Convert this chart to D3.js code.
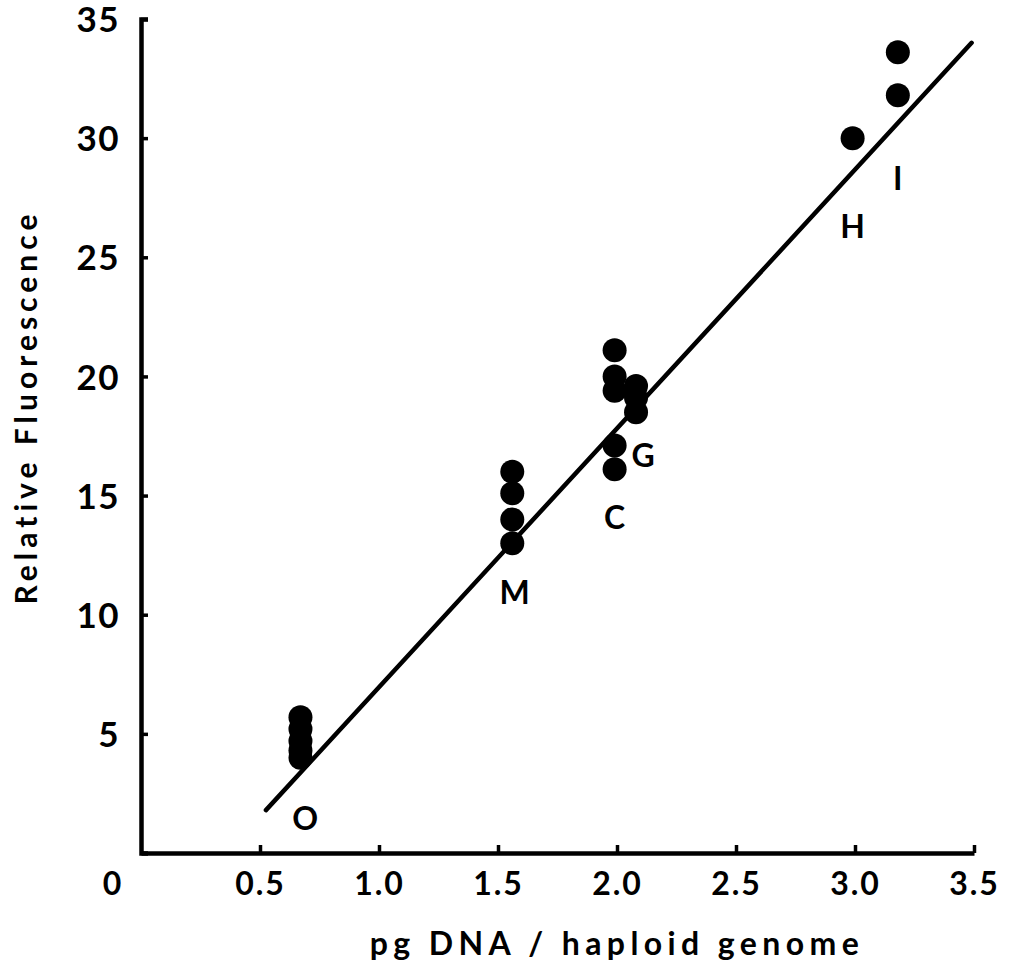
<!DOCTYPE html>
<meta charset="utf-8">
<style>
  body { margin: 0; background: #fff; }
  svg { display: block; }
  .axis path, .axis line { stroke: #000; }
  .axis path { stroke-width: 4.5px; }
  .axis line { stroke-width: 3.5px; }
  .axis text { font-family: Lato, sans-serif; font-weight: 700; fill: #000; }
  .fit { fill: none; stroke: #000; stroke-width: 4.5px; stroke-linecap: round; }
  .label { font-family: Lato, sans-serif; font-weight: 700; font-size: 32px; }
  .title { font-family: Lato, sans-serif; font-weight: 700; }
</style>
<body>
<script src="https://d3js.org/d3.v7.min.js"></script>
<script>

// measured points, one array per genome group
var groupO = [{x: 0.67, y: 5.7}, {x: 0.67, y: 5.2}, {x: 0.67, y: 4.7}, {x: 0.67, y: 4.3}, {x: 0.67, y: 4.0}];
var groupM = [{x: 1.56, y: 16.0}, {x: 1.56, y: 15.1}, {x: 1.56, y: 14.0}, {x: 1.56, y: 13.0}];
var groupC = [{x: 1.99, y: 21.1}, {x: 1.99, y: 20.0}, {x: 1.99, y: 19.4}, {x: 1.99, y: 17.1}, {x: 1.99, y: 16.1}];
var groupG = [{x: 2.08, y: 19.6}, {x: 2.08, y: 19.1}, {x: 2.08, y: 18.5}];
var groupH = [{x: 2.99, y: 30.0}];
var groupI = [{x: 3.18, y: 33.6}, {x: 3.18, y: 31.8}];

// group letters and where they sit (data units)
var groupLabels = [
  {text: "O", x: 0.69, y: 1.45},
  {text: "M", x: 1.57, y: 10.95},
  {text: "C", x: 1.99, y: 14.1},
  {text: "G", x: 2.11, y: 16.7},
  {text: "H", x: 2.99, y: 26.3},
  {text: "I", x: 3.18, y: 28.3}
];

// regression line end points
var fitX = [0.525, 3.49];
var fitY = [1.8, 34.0];

var xTicks = [0.5, 1.0, 1.5, 2.0, 2.5, 3.0, 3.5];
var yTicks = [5, 10, 15, 20, 25, 30, 35];
var originLabel = "0";
var xTitle = "pg DNA / haploid genome";
var yTitle = "Relative Fluorescence";

var width = 1012, height = 972;

var x = d3.scaleLinear().domain([0, 3.5]).range([141, 974]);
var y = d3.scaleLinear().domain([0, 35]).range([853, 19]);

var svg = d3.select("body").append("svg")
  .attr("width", width)
  .attr("height", height);

// x axis, ticks pointing up
svg.append("g")
  .attr("class", "axis")
  .attr("transform", "translate(0," + y(0) + ")")
  .call(d3.axisBottom(x).tickValues(xTicks).tickSize(-8).tickSizeOuter(0)
    .tickPadding(19).tickFormat(d3.format(".1f")))
  .selectAll("text")
    .style("font-size", "32px")
    .style("letter-spacing", "2px");

// y axis, ticks pointing right
svg.append("g")
  .attr("class", "axis")
  .attr("transform", "translate(" + x(0) + ",0)")
  .call(d3.axisLeft(y).tickValues(yTicks).tickSize(-7).tickSizeOuter(-7)
    .tickPadding(21))
  .selectAll("text")
    .style("font-size", "35px")
    .style("letter-spacing", "1.5px")
    .attr("dy", "0.36em");

svg.append("text")
  .attr("class", "axis label")
  .attr("x", x(0) - 29)
  .attr("y", 895)
  .attr("text-anchor", "middle")
  .text(originLabel);

// fitted line
var pts = fitX.map(function (d, i) { return [x(d), y(fitY[i])]; });
svg.append("path")
  .attr("class", "fit")
  .attr("d", d3.line()(pts));

// dots
var allPoints = [].concat(groupO, groupM, groupC, groupG, groupH, groupI);
svg.selectAll(".dot")
  .data(allPoints)
  .join("circle")
    .attr("class", "dot")
    .attr("cx", function (d) { return x(d.x); })
    .attr("cy", function (d) { return y(d.y); })
    .attr("r", 12)
    .attr("fill", "#000");

// group letters
svg.selectAll(".glabel")
  .data(groupLabels)
  .join("text")
    .attr("class", "glabel label")
    .attr("x", function (d) { return x(d.x); })
    .attr("y", function (d) { return y(d.y); })
    .attr("dy", "0.36em")
    .attr("text-anchor", "middle")
    .text(function (d) { return d.text; });

// axis titles
svg.append("text")
  .attr("class", "title")
  .attr("x", 617)
  .attr("y", 955)
  .attr("text-anchor", "middle")
  .style("font-size", "32px")
  .style("letter-spacing", "5.4px")
  .text(xTitle);

svg.append("text")
  .attr("class", "title")
  .attr("transform", "translate(37,407) rotate(-90)")
  .attr("text-anchor", "middle")
  .style("font-size", "30px")
  .style("letter-spacing", "5px")
  .text(yTitle);

</script>
</body>
